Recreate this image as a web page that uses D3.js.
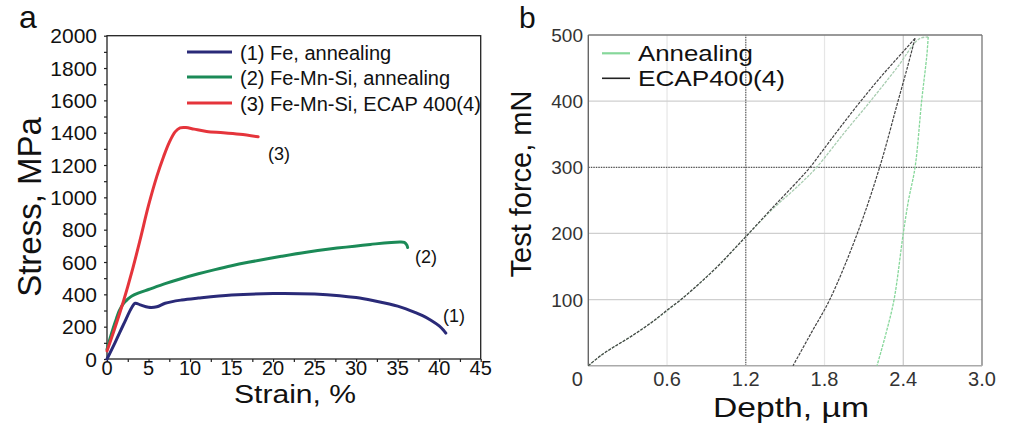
<!DOCTYPE html>
<html>
<head>
<meta charset="utf-8">
<script src="https://cdn.jsdelivr.net/npm/d3@7"></script>
<style>
  html, body { margin: 0; padding: 0; background: #fff; }
  svg { display: block; font-family: "Liberation Sans", Arial, sans-serif; }
</style>
</head>
<body>
<svg id="chart" width="1011" height="427"></svg>
<script>
// ---- Panel a: tensile curves (strain %, stress MPa) ----
const feAnnealing = [[0,0],[1,105],[2,215],[3,320],[3.4,345],[4,335],[5,320],[6,323],[7,345],[9,365],[11,377],[15,396],[20,405],[25,402],[28,392],[30,380],[32,362],[34,340],[35,327],[36,310],[37,290],[38,268],[39,240],[40,205],[40.5,180],[40.8,160]];
const feMnSiAnnealing = [[0,60],[0.5,150],[1,230],[1.5,300],[2,345],[2.5,370],[3,390],[4,412],[5,430],[7,466],[9,498],[11,527],[13,553],[15,577],[17,598],[19,617],[21,635],[24,660],[27.7,686],[31.7,709],[35.3,724],[35.8,721],[36.1,705],[36.2,690]];
const feMnSiEcap = [[0,50],[1,200],[2,360],[3,540],[4,740],[5,950],[6,1130],[6.8,1250],[7.5,1340],[8.2,1405],[8.8,1430],[9.5,1432],[10.5,1422],[12,1408],[14,1400],[16,1390],[18.2,1375]];
const seriesA = ["(1) Fe, annealing", "(2) Fe-Mn-Si, annealing", "(3) Fe-Mn-Si, ECAP 400(4)"];
const endLabelsA = ["(1)", "(2)", "(3)"];
const strainTicks = [0,5,10,15,20,25,30,35,40,45];
const stressTicks = [0,200,400,600,800,1000,1200,1400,1600,1800,2000];

// ---- Panel b: indentation curves (depth µm, force mN) ----
const annealingLoad = [[0,0],[0.1,16],[0.2,29],[0.3,41],[0.4,54],[0.5,68],[0.6,83],[0.8,116],[1.0,153],[1.2,195],[1.4,236],[1.6,272],[1.74,300],[1.95,352],[2.15,400],[2.35,450],[2.52,494],[2.59,497]];
const annealingUnload = [[2.59,497],[2.58,470],[2.54,400],[2.49,300],[2.44,250],[2.40,200],[2.33,100],[2.27,50],[2.20,0]];
const ecapLoad = [[0,0],[0.1,16],[0.2,29],[0.3,41],[0.4,54],[0.5,68],[0.6,84],[0.7,99],[0.8,116],[0.9,134],[1.0,153],[1.1,174],[1.2,195],[1.4,238],[1.6,280],[1.69,300],[1.8,329],[2.0,381],[2.2,430],[2.4,475],[2.49,495]];
const ecapUnload = [[2.49,495],[2.43,450],[2.36,400],[2.22,300],[2.05,200],[1.84,100],[1.70,50],[1.56,0]];
const seriesB = ["Annealing", "ECAP400(4)"];
const depthTicks = [0,0.6,1.2,1.8,2.4,3.0];
const forceTicks = [100,200,300,400,500];

const svg = d3.select("#chart");

// ================= Panel a =================
const xA = d3.scaleLinear().domain([0,45]).range([107,480.7]);
const yA = d3.scaleLinear().domain([0,2000]).range([359,35.7]);
const gA = svg.append("g");

// frame
gA.append("rect").attr("x",xA(0)).attr("y",yA(2000))
  .attr("width",xA(45)-xA(0)).attr("height",yA(0)-yA(2000))
  .attr("fill","none").attr("stroke","#222").attr("stroke-width",1.3);

// ticks (major and minor, short, outward)
const axA_x = gA.append("g").attr("transform",`translate(0,${yA(0)})`)
  .call(d3.axisBottom(xA).tickValues(d3.range(0,45.1,2.5)).tickSize(3).tickFormat(""));
const axA_y = gA.append("g").attr("transform",`translate(${xA(0)},0)`)
  .call(d3.axisLeft(yA).tickValues(d3.range(0,2001,100)).tickSize(3).tickFormat(""));
[axA_x, axA_y].forEach(a => { a.select(".domain").remove(); a.selectAll("line").attr("stroke","#222").attr("stroke-width",1.2); });

// tick labels
gA.selectAll("text.xl").data(strainTicks).join("text")
  .attr("x",d=>xA(d)).attr("y",375).attr("text-anchor","middle")
  .attr("font-size",20).attr("fill","#111").text(d=>d);
gA.selectAll("text.yl").data(stressTicks).join("text")
  .attr("x",97).attr("y",d=>yA(d)+7.5).attr("text-anchor","end")
  .attr("font-size",21).attr("fill","#111").text(d=>d);

// axis titles
gA.append("text").attr("x",295).attr("y",403).attr("text-anchor","middle")
  .attr("font-size",26).attr("textLength",122).attr("lengthAdjust","spacingAndGlyphs")
  .attr("fill","#111").text("Strain, %");
gA.append("text").attr("transform","translate(41,207) rotate(-90)").attr("text-anchor","middle")
  .attr("font-size",33).attr("fill","#111").text("Stress, MPa");
gA.append("text").attr("x",19).attr("y",28).attr("font-size",32).attr("fill","#111").text("a");

// curves
const colorsA = ["#2a2a78","#1b8a57","#e5343b"];
const dataA = [feAnnealing, feMnSiAnnealing, feMnSiEcap];
const lineA = d3.line().x(d=>xA(d[0])).y(d=>yA(d[1])).curve(d3.curveCatmullRom.alpha(0.5));
dataA.forEach((d,i) => {
  gA.append("path").datum(d).attr("d",lineA).attr("fill","none")
    .attr("stroke",colorsA[i]).attr("stroke-width",3).attr("stroke-linejoin","round").attr("stroke-linecap","round");
});

// end labels
const endPos = [[443,322],[415,263],[268,160]];
endLabelsA.forEach((t,i) => {
  gA.append("text").attr("x",endPos[i][0]).attr("y",endPos[i][1])
    .attr("font-size",18).attr("fill","#111").text(t);
});

// legend
const legYA = [52,77,103];
seriesA.forEach((t,i) => {
  gA.append("line").attr("x1",187).attr("x2",232).attr("y1",legYA[i]).attr("y2",legYA[i])
    .attr("stroke",colorsA[i]).attr("stroke-width",3);
  gA.append("text").attr("x",240).attr("y",legYA[i]+7.5).attr("font-size",20).attr("fill","#111").text(t);
});

// ================= Panel b =================
const xB = d3.scaleLinear().domain([0,3]).range([588.3,982]);
const yB = d3.scaleLinear().domain([0,500]).range([365.7,35]);
const gB = svg.append("g");

// grid
const lightX = [0.6,1.8,2.4], lightY = [100,200,400];
gB.selectAll("line.gx").data(lightX).join("line")
  .attr("x1",d=>xB(d)).attr("x2",d=>xB(d)).attr("y1",yB(0)).attr("y2",yB(500))
  .attr("stroke",d=>d===2.4?"#c8c8c8":"#e6e6e6").attr("stroke-width",1.2);
gB.selectAll("line.gy").data(lightY).join("line")
  .attr("x1",xB(0)).attr("x2",xB(3)).attr("y1",d=>yB(d)).attr("y2",d=>yB(d))
  .attr("stroke","#cfcfcf").attr("stroke-width",1.3);
gB.append("line").attr("x1",xB(1.2)).attr("x2",xB(1.2)).attr("y1",yB(0)).attr("y2",yB(500))
  .attr("stroke","#555").attr("stroke-width",1.2).attr("stroke-dasharray","1.5,1");
gB.append("line").attr("x1",xB(0)).attr("x2",xB(3)).attr("y1",yB(300)).attr("y2",yB(300))
  .attr("stroke","#555").attr("stroke-width",1.3).attr("stroke-dasharray","1.5,1");

// frame
gB.append("line").attr("x1",xB(0)).attr("x2",xB(3)).attr("y1",yB(500)).attr("y2",yB(500)).attr("stroke","#777").attr("stroke-width",1.3);
gB.append("line").attr("x1",xB(3)).attr("x2",xB(3)).attr("y1",yB(0)).attr("y2",yB(500)).attr("stroke","#777").attr("stroke-width",1.3);
gB.append("line").attr("x1",xB(0)).attr("x2",xB(0)).attr("y1",yB(0)).attr("y2",yB(500)).attr("stroke","#666").attr("stroke-width",1.4);
gB.append("line").attr("x1",xB(0)).attr("x2",xB(3)).attr("y1",yB(0)).attr("y2",yB(0)).attr("stroke","#aaa").attr("stroke-width",1.4);

// tick labels
gB.selectAll("text.xl").data(depthTicks).join("text")
  .attr("x",d=>d===0 ? xB(d)-11 : xB(d)).attr("y",386).attr("text-anchor","middle")
  .attr("font-size",20).attr("fill","#333").text(d=>d===0?"0":d.toFixed(1));
gB.selectAll("text.yl").data(forceTicks).join("text")
  .attr("x",583).attr("y",d=>yB(d)+7).attr("text-anchor","end")
  .attr("font-size",19).attr("fill","#333").text(d=>d);

// axis titles
gB.append("text").attr("x",791).attr("y",417).attr("text-anchor","middle")
  .attr("font-size",28).attr("textLength",156).attr("lengthAdjust","spacingAndGlyphs")
  .attr("fill","#111").text("Depth, µm");
gB.append("text").attr("transform","translate(531,184) rotate(-90)").attr("text-anchor","middle")
  .attr("font-size",29).attr("fill","#111").text("Test force, mN");
gB.append("text").attr("x",519).attr("y",28).attr("font-size",30).attr("fill","#111").text("b");

// curves
const lineB = d3.line().x(d=>xB(d[0])).y(d=>yB(d[1])).curve(d3.curveCatmullRom.alpha(0.5));
const colAnn = "#86d79a", colEcap = "#444";
[annealingLoad, annealingUnload].forEach((d,i) => {
  gB.append("path").datum(d).attr("d",lineB).attr("fill","none")
    .attr("stroke", i===0 ? "#a9cdb1" : colAnn).attr("stroke-width",1.3).attr("stroke-dasharray","3,1.2");
});
[ecapLoad, ecapUnload].forEach(d => {
  gB.append("path").datum(d).attr("d",lineB).attr("fill","none")
    .attr("stroke",colEcap).attr("stroke-width",1.2).attr("stroke-dasharray","3,1.2");
});

// legend
const legYB = [53.3,78.3];
const legColB = [colAnn, "#222"];
const legLenB = [115,147];
seriesB.forEach((t,i) => {
  gB.append("line").attr("x1",602).attr("x2",630).attr("y1",legYB[i]).attr("y2",legYB[i])
    .attr("stroke",legColB[i]).attr("stroke-width",i===0?2.2:1.6);
  gB.append("text").attr("x",638).attr("y",legYB[i]+8).attr("font-size",22)
    .attr("textLength",legLenB[i]).attr("lengthAdjust","spacingAndGlyphs")
    .attr("fill","#111").text(t);
});
</script>
</body>
</html>
